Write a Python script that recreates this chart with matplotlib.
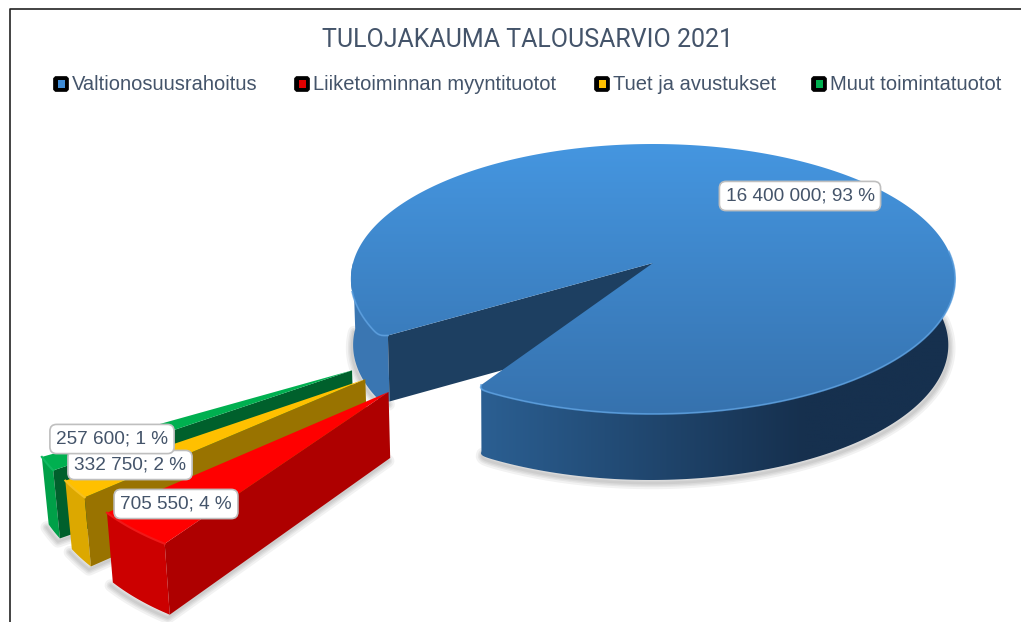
import numpy as np
import matplotlib
matplotlib.use("Agg")
import matplotlib.pyplot as plt
from matplotlib.colors import LinearSegmentedColormap
from matplotlib.patches import FancyBboxPatch, Polygon

title = "TULOJAKAUMA TALOUSARVIO 2021"
categories = ["Valtionosuusrahoitus", "Liiketoiminnan myyntituotot", "Tuet ja avustukset", "Muut toimintatuotot"]
values = [16400000, 705550, 332750, 257600]

main_top = ["#4596E0", "#3672AE"]
main_side = [(0, "#2B5F92"), (0.68, "#16304E"), (1, "#16304E")]
main_cut = "#1D3F61"
main_rim_left = "#3A76B2"
wedge_top = ["#FF0000", "#FFC000", "#00B050"]
wedge_outer = ["#CC0000", "#DCA800", "#00A048"]
wedge_side = ["#AE0000", "#997300", "#00602C"]
wedge_edge = ["#F01818", "#F5C020", "#10B860"]
text_col = "#44546A"

plt.rcParams["font.family"] = ["Liberation Sans", "DejaVu Sans"]

# perspective of the pie disc, in pixels
ax0, ay0 = 653, 263
rx, ry, k = 300, 133.1, 0.1185
gap_end = 58.0
explode = 1.175
explode_dir = [47.7, 42.3, 38.8]
wedge_r = 0.965


def project(u, v):
    w = 1 - k * np.asarray(v)
    return ax0 + rx * np.asarray(u) / w, ay0 + ry * np.asarray(v) / w


def drop(x, y):
    # lower face of the 3d slice
    x = np.asarray(x, dtype=float)
    y = np.asarray(y, dtype=float)
    h = 66 + 0.04 * np.clip(y - 420, 0, None)
    return x + (500 - x) * 0.015, y + h


def disc(deg, du=0.0, dv=0.0, r=1.0):
    a = np.radians(deg)
    return project(du - r * np.cos(a), dv + r * np.sin(a))


def grad_fill(ax, xs, ys, colors, vertical=True, zorder=2):
    cmap = LinearSegmentedColormap.from_list("g", colors)
    g = np.linspace(0, 1, 256)
    g = g[:, None] if vertical else g[None, :]
    ext = [min(xs), max(xs), max(ys), min(ys)]
    im = ax.imshow(g, cmap=cmap, extent=ext, aspect="auto", zorder=zorder, interpolation="bilinear")
    poly = Polygon(np.column_stack([xs, ys]), closed=True, transform=ax.transData, fc="none", ec="none")
    ax.add_patch(poly)
    im.set_clip_path(poly)


def soft_shadow(ax, xs, ys, dx=-3, dy=4):
    for lw in [9, 6, 4, 2]:
        ax.plot(np.asarray(xs) + dx, np.asarray(ys) + dy, color="black", alpha=0.05, lw=lw,
                solid_capstyle="round", zorder=1)


def label(ax, x, y, txt):
    ax.text(x, y, txt, fontsize=13.7, color=text_col, ha="center", va="center", zorder=10,
            bbox=dict(boxstyle="round,pad=0.32,rounding_size=0.35", fc="white", ec="#BFBFBF", lw=1.2))


def fmt(v):
    return f"{v:,}".replace(",", " ")


fig = plt.figure(figsize=(10.21, 6.22), dpi=100)
ax = fig.add_axes([0, 0, 1, 1])

total = sum(values)
sweep = [v / total * 360 for v in values]
gap_start = gap_end - sum(sweep[1:])


def main_r(deg):
    # the bevel pulls the two cut corners in a little
    d = np.minimum(np.abs(deg - gap_end), np.abs(deg - gap_start - 360))
    d = np.minimum(d, np.abs(deg - gap_start))
    return 1 - 0.025 * np.exp(-d / 0.6)


# main slice, runs from the end of the gap round to its start
arc = np.linspace(gap_end, gap_start + 360, 800)
tx, ty = disc(arc, r=main_r(arc))
front = np.linspace(gap_end, 180 + 5, 300)
fx, fy = disc(front, r=main_r(front))
bx, by = drop(fx, fy)
soft_shadow(ax, bx, by, dx=1, dy=3)
left = np.linspace(0, gap_start, 100)
lx, ly = disc(left, r=main_r(left))
lbx, lby = drop(lx, ly)
soft_shadow(ax, lbx, lby, dx=-1, dy=3)

grad_fill(ax, np.r_[fx, bx[::-1]], np.r_[fy, by[::-1]], main_side, vertical=False)
ax.fill(np.r_[lx, lbx[::-1]], np.r_[ly, lby[::-1]], color=main_rim_left, zorder=2, lw=0)

cx, cy = lx[-1], ly[-1]
cbx, cby = drop(cx, cy)
abx, aby = drop(ax0, ay0)
ax.fill([ax0, cx, cbx, abx], [ay0, cy, cby, aby], color=main_cut, zorder=2.5, lw=0)

grad_fill(ax, np.r_[ax0, tx], np.r_[ay0, ty], main_top, zorder=3)
ax.plot(fx, fy, color="#5A9FE0", lw=1.3, alpha=0.8, zorder=3.2)
ax.plot(lx[left > 12], ly[left > 12], color="#5A9FE0", lw=1.3, alpha=0.8, zorder=3.2)

# exploded slices, red first in the value order but drawn last
hi = gap_end
spans = []
for s in sweep[1:]:
    spans.append((hi - s, hi))
    hi -= s

for i in [2, 1, 0]:
    lo, hi = spans[i]
    a = np.radians(explode_dir[i])
    du, dv = -explode * np.cos(a), explode * np.sin(a)
    tipx, tipy = project(du, dv)
    ox, oy = disc(np.linspace(lo, hi, 30), du, dv, r=wedge_r)
    obx, oby = drop(ox, oy)
    tbx, tby = drop(tipx, tipy)
    z = 4 + (2 - i) * 0.3
    soft_shadow(ax, np.r_[obx, tbx], np.r_[oby, tby], dx=-2, dy=3)
    ax.fill(np.r_[ox, obx[::-1]], np.r_[oy, oby[::-1]], color=wedge_outer[i], zorder=z, lw=0)
    ax.fill([tipx, ox[-1], obx[-1], tbx], [tipy, oy[-1], oby[-1], tby], color=wedge_side[i], zorder=z, lw=0)
    ax.fill(np.r_[tipx, ox], np.r_[tipy, oy], color=wedge_top[i], zorder=z + 0.1, lw=0)
    ax.plot(ox, oy, color=wedge_edge[i], lw=1.5, zorder=z + 0.2)

# data labels
label_pos = [(800, 196), (176, 504), (130, 465), (112, 439)]
for v, (x, y) in zip(values, label_pos):
    label(ax, x, y, f"{fmt(v)}; {round(v / total * 100)} %")

# title, legend and the frame
ax.text(527, 40, title, fontsize=18, color=text_col, ha="center", va="center", family=["Roboto", "DejaVu Sans"])
legend_x = [61, 302, 602, 819]
legend_col = ["#3F8CD6", "#E00000", "#FFC000", "#00B050"]
for x, name, c in zip(legend_x, categories, legend_col):
    ax.add_patch(FancyBboxPatch((x - 6.5, 77.5), 13, 13, boxstyle="round,pad=1,rounding_size=3",
                                fc="black", ec="black", lw=0.5, zorder=5))
    ax.add_patch(plt.Rectangle((x - 3.5, 80), 7, 8, fc=c, ec="none", zorder=6))
    ax.text(x + 11, 84, name, fontsize=14.5, color=text_col, ha="left", va="center")

ax.plot([10, 10, 1021], [622, 8.5, 8.5], color="#222222", lw=1.2, zorder=8)

ax.set_xlim(0, 1021)
ax.set_ylim(622, 0)
ax.axis("off")
fig.savefig("out.png", dpi=100, facecolor="white")
plt.close(fig)
